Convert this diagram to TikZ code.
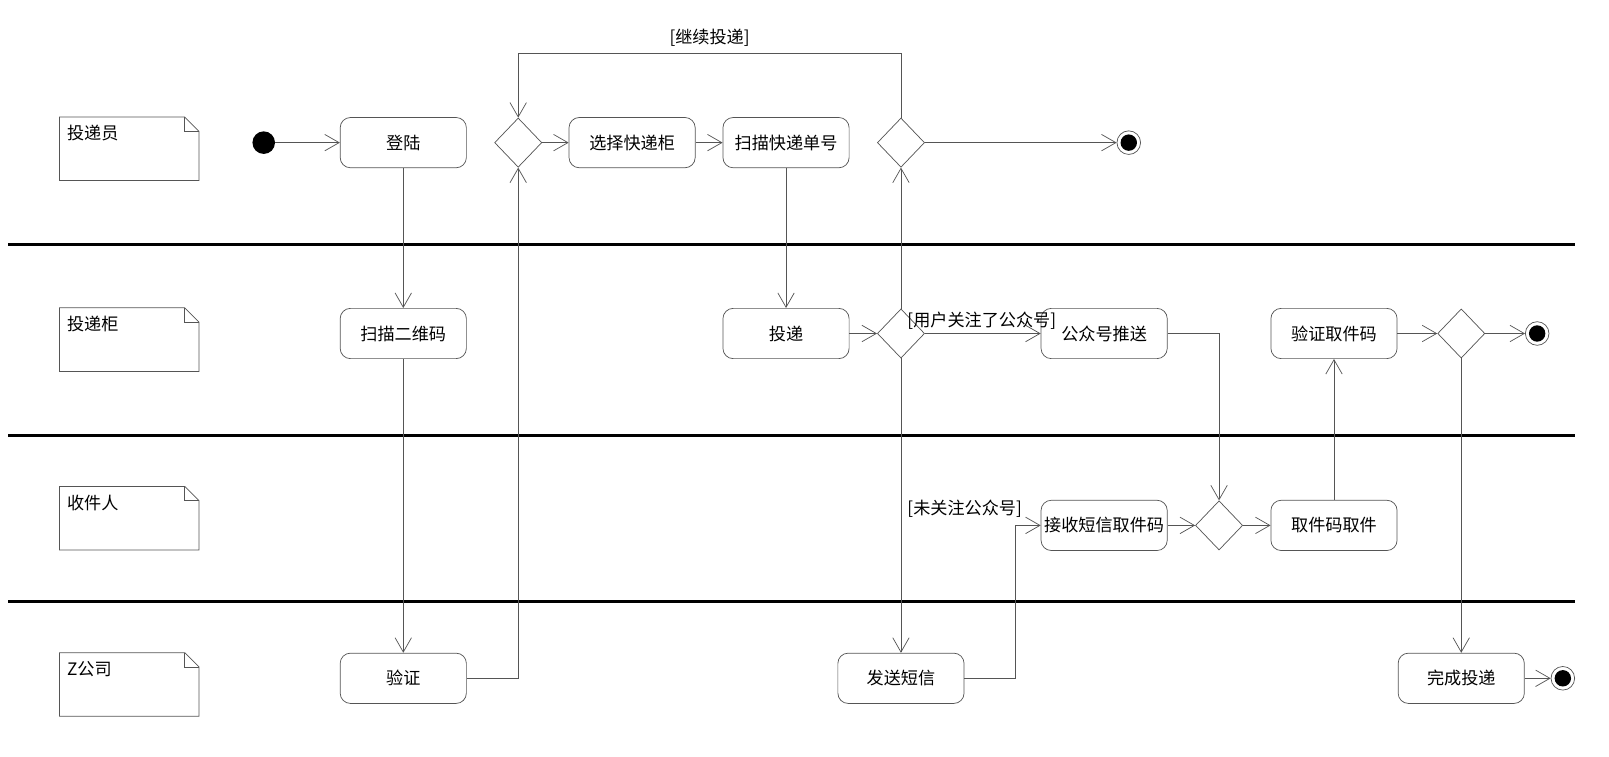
\documentclass[tikz,border=0pt]{standalone}
\usepackage{fontspec}
\setmainfont{Noto Sans CJK SC}
\usepackage{tikz}
\usetikzlibrary{positioning}
\usetikzlibrary{shapes.geometric}
\usetikzlibrary{arrows.meta}
\usetikzlibrary{calc}
\definecolor{linegray}{HTML}{555555}
\tikzset{
   act/.style = {%
    shape=rectangle,
    rounded corners=0.2cm,
    draw=linegray,
    minimum width=2.46cm,
    minimum height=0.98cm,
    inner xsep=0pt,
    align=center,
    font=\fontsize{9.5}{11}\selectfont},
   dec/.style = {%
    shape=diamond,
    draw=linegray,
    minimum width=0.92cm,
    minimum height=0.96cm,
    inner sep=0pt},
   startdot/.style = {%
    circle, fill=black, minimum size=0.44cm, inner sep=0pt},
   stopdot/.style = {%
    circle, draw=linegray, minimum size=0.46cm, inner sep=0pt,
    path picture={\fill[black] (path picture bounding box.center) circle (0.16cm);}},
   flow/.style = {%
    draw=linegray,
    -{Straight Barb[length=0.28cm, width=0.32cm]}},
   guard/.style = {%
    inner sep=0pt,
    font=\fontsize{9.5}{11}\selectfont},
   lane/.style = {%
    draw=black, line width=1.7pt},
    }

\begin{document}
\begin{tikzpicture}[x=0.02cm, y=-0.02cm]
    \useasboundingbox (0,0) rectangle (1568,737);
    % swimlane separators
    \foreach \y in {238,424,586}
        \draw[lane] (8,\y) -- (1535,\y);
    % lane notes
    \foreach \y/\name in {114/投递员, 300/投递柜, 474/收件人, 636/Z公司} {
        \draw[linegray] (58,\y) -- (180,\y) -- (194,\y+14) -- (194,\y+62) -- (58,\y+62) -- cycle;
        \draw[linegray] (180,\y) -- (180,\y+14) -- (194,\y+14);
        \node[guard, anchor=north west] (note-\y) at (65,\y+8) {\name};
    }
    % row 1
    \node[startdot] (start) at (257,139) {};
    \node[act] (denglu) at (393,139) {登陆};
    \node[dec] (d1) at (505,139) {};
    \node[act] (xzkdg) at (616,139) {选择快递柜};
    \node[act] (smkddh) at (766,139) {扫描快递单号};
    \node[dec] (d2) at (878,139) {};
    \node[stopdot] (end1) at (1100,139) {};
    % row 2
    \node[act] (smewm) at (393,325) {扫描二维码};
    \node[act] (toudi) at (766,325) {投递};
    \node[dec] (d3) at (878,325) {};
    \node[act] (gzhts) at (1076,325) {公众号推送};
    \node[act] (yzqjm) at (1300,325) {验证取件码};
    \node[dec] (d5) at (1424,325) {};
    \node[stopdot] (end2) at (1498,325) {};
    % row 3
    \node[act] (jsdx) at (1076,512) {接收短信取件码};
    \node[dec] (d4) at (1188,512) {};
    \node[act] (qjmqj) at (1300,512) {取件码取件};
    % row 4
    \node[act] (yanzheng) at (393,661) {验证};
    \node[act] (fsdx) at (878,661) {发送短信};
    \node[act] (wctd) at (1424,661) {完成投递};
    \node[stopdot] (end3) at (1523,661) {};
    % flows
    \draw[flow] (start) -- (denglu);
    \draw[flow] (denglu.south) -- (smewm.north);
    \draw[flow] (smewm.south) -- (yanzheng.north);
    \draw[flow] (yanzheng.east) -| (d1.south);
    \draw[flow] (d1) -- (xzkdg);
    \draw[flow] (xzkdg) -- (smkddh);
    \draw[flow] (smkddh.south) -- (toudi.north);
    \draw[flow] (toudi) -- (d3);
    \draw[flow] (d3.north) -- (d2.south);
    \draw[flow] (d2) -- (end1);
    \draw[flow] (d2.north) -- ++(0,-63) -| node[guard, pos=0.25, above=0.12cm] (jixu) {[继续投递]} (d1.north);
    \draw[flow] (d3.east) -- (gzhts.west);
    \node[guard, anchor=west] (guanzhu) at (884,313) {[用户关注了公众号]};
    \draw[flow] (d3.south) -- (fsdx.north);
    \draw[flow] (fsdx.east) -- ++(50,0) |- (jsdx.west);
    \node[guard, anchor=west] (weiguanzhu) at (884,496) {[未关注公众号]};
    \draw[flow] (gzhts.east) -| (d4.north);
    \draw[flow] (jsdx) -- (d4);
    \draw[flow] (d4) -- (qjmqj);
    \draw[flow] (qjmqj.north) -- (yzqjm.south);
    \draw[flow] (yzqjm) -- (d5);
    \draw[flow] (d5) -- (end2);
    \draw[flow] (d5.south) -- (wctd.north);
    \draw[flow] (wctd) -- (end3);
\end{tikzpicture}
\end{document}
